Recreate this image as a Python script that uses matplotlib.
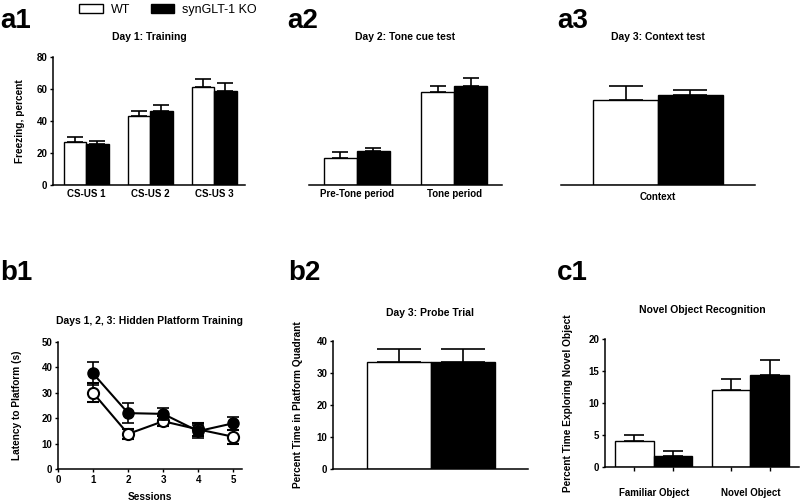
import numpy as np
import matplotlib
matplotlib.use("Agg")
import matplotlib.pyplot as plt

plt.rcParams['font.family'] = ['Liberation Sans', 'DejaVu Sans']
plt.rcParams['font.weight'] = 'bold'

W, H = 800, 501

# --- data ---
groups = ["WT", "synGLT-1 KO"]

a1_cats = ["CS-US 1", "CS-US 2", "CS-US 3"]
a1_wt = [27, 43, 61]
a1_wt_err = [3, 3, 5.5]
a1_ko = [25.5, 46, 59]
a1_ko_err = [2, 4, 4.5]

a2_cats = ["Pre-Tone period", "Tone period"]
a2_wt = [17, 58]
a2_wt_err = [3.5, 4]
a2_ko = [21, 62]
a2_ko_err = [2, 5]

a3_cats = ["Context"]
a3_wt = [53]
a3_wt_err = [9]
a3_ko = [56]
a3_ko_err = [3.5]

sessions = [1, 2, 3, 4, 5]
b1_wt = [30, 13.8, 18.8, 15.6, 12.7]
b1_wt_err = [3.8, 2, 2, 2.5, 2.8]
b1_ko = [37.6, 22, 21.7, 14.9, 18]
b1_ko_err = [4.5, 4, 2.5, 2.5, 2.5]

b2_wt = [33.5]
b2_wt_err = [4]
b2_ko = [33.5]
b2_ko_err = [4]

c1_cats = ["Familiar Object", "Novel Object"]
c1_wt = [4, 12]
c1_wt_err = [1, 1.8]
c1_ko = [1.7, 14.3]
c1_ko_err = [0.8, 2.4]


def rect(l, t, r, b):
    return [l / W, 1 - b / H, (r - l) / W, (b - t) / H]


def style(ax, left=True):
    for s in ['top', 'right']:
        ax.spines[s].set_visible(False)
    ax.spines['left'].set_visible(left)
    for s in ['left', 'bottom']:
        ax.spines[s].set_linewidth(1.1)
    ax.tick_params(labelsize=7, width=1, length=2.5, pad=1.5)
    if not left:
        ax.set_yticks([])


def bar_pair(ax, x, wt, wt_err, ko, ko_err, width, cap, label=True):
    x = np.asarray(x, dtype=float)
    ekw = dict(elinewidth=1.2, capthick=1.2, ecolor='black')
    ax.bar(x - width / 2, wt, width, color='white', edgecolor='black', linewidth=1,
           yerr=[np.zeros(len(wt)), wt_err], capsize=cap, error_kw=ekw,
           label=groups[0] if label else None, zorder=2)
    ax.bar(x + width / 2, ko, width, color='black', edgecolor='black', linewidth=1,
           yerr=[np.zeros(len(ko)), ko_err], capsize=cap, error_kw=ekw,
           label=groups[1] if label else None, zorder=2)


fig = plt.figure(figsize=(8, 5.01), dpi=100)

title_kw = dict(fontsize=7.5, fontweight='bold')
lab_kw = dict(fontsize=7.3, fontweight='bold')

# a1
ax = fig.add_axes(rect(53, 57, 245, 185))
bar_pair(ax, range(3), a1_wt, a1_wt_err, a1_ko, a1_ko_err, 0.35, 6)
ax.set_xlim(-0.52, 2.48)
ax.set_ylim(0, 80)
style(ax)
ax.set_yticks([0, 20, 40, 60, 80])
ax.set_xticks(range(3), a1_cats, fontsize=7)
ax.tick_params(axis='x', length=0, pad=3)
ax.set_title("Day 1: Training", pad=12, **title_kw)
ax.set_ylabel("Freezing, percent", **lab_kw)
ax.yaxis.set_label_coords(-0.146, 0.5)
handles, labels = ax.get_legend_handles_labels()

# a2
ax = fig.add_axes(rect(309, 57, 502, 185))
bar_pair(ax, range(2), a2_wt, a2_wt_err, a2_ko, a2_ko_err, 0.34, 6, label=False)
ax.set_xlim(-0.49, 1.49)
ax.set_ylim(0, 80)
style(ax, left=False)
ax.set_xticks(range(2), a2_cats, fontsize=7)
ax.tick_params(axis='x', length=0, pad=3)
ax.set_title("Day 2: Tone cue test", pad=12, **title_kw)

# a3
ax = fig.add_axes(rect(561, 57, 755, 185))
bar_pair(ax, [0], a3_wt, a3_wt_err, a3_ko, a3_ko_err, 0.335, 12, label=False)
ax.set_xlim(-0.5, 0.5)
ax.set_ylim(0, 80)
style(ax, left=False)
ax.set_xticks([0], a3_cats, fontsize=7)
ax.tick_params(axis='x', length=0, pad=5)
ax.set_title("Day 3: Context test", pad=12, **title_kw)

# b1
ax = fig.add_axes(rect(58, 342, 242, 469))
ax.errorbar(sessions, b1_ko, yerr=b1_ko_err, color='black', lw=1.5, marker='o',
            ms=8, mfc='black', mec='black', capsize=4, elinewidth=1.2, capthick=1.2, zorder=3)
ax.errorbar(sessions, b1_wt, yerr=b1_wt_err, color='black', lw=1.5, marker='o',
            ms=8, mfc='white', mec='black', mew=1.5, capsize=4, elinewidth=1.2,
            capthick=1.2, zorder=2)
ax.set_xlim(0, 5.25)
ax.set_ylim(0, 50)
style(ax)
ax.set_xticks(range(6))
ax.set_yticks(range(0, 51, 10))
ax.set_title("Days 1, 2, 3: Hidden Platform Training", pad=13, **title_kw)
ax.set_ylabel("Latency to Platform (s)", **lab_kw)
ax.yaxis.set_label_coords(-0.196, 0.5)
ax.set_xlabel("Sessions", labelpad=5, **lab_kw)

# b2
ax = fig.add_axes(rect(333, 341, 528, 469))
ekw = dict(elinewidth=1.2, capthick=1.2, ecolor='black')
ax.bar([0], b2_wt, 1, color='white', edgecolor='black', linewidth=1,
       yerr=[[0], b2_wt_err], capsize=16, error_kw=ekw, zorder=2)
ax.bar([1], b2_ko, 1, color='black', edgecolor='black', linewidth=1,
       yerr=[[0], b2_ko_err], capsize=16, error_kw=ekw, zorder=2)
ax.set_xlim(-1.03, 2.02)
ax.set_ylim(0, 40)
style(ax)
ax.set_xticks([])
ax.set_yticks(range(0, 41, 10))
ax.set_title("Day 3: Probe Trial", pad=18, **title_kw)
ax.set_ylabel("Percent Time in Platform Quadrant", **lab_kw)
ax.yaxis.set_label_coords(-0.154, 0.5)

# c1
ax = fig.add_axes(rect(605, 339, 799, 467))
bar_pair(ax, range(2), c1_wt, c1_wt_err, c1_ko, c1_ko_err, 0.4, 7, label=False)
ax.set_xlim(-0.505, 1.505)
ax.set_ylim(0, 20)
style(ax)
ax.set_yticks(range(0, 21, 5))
ax.set_xticks(range(2), c1_cats, fontsize=7)
ax.set_xticks([-0.2, 0.2, 0.8, 1.2], minor=True)
ax.tick_params(axis='x', which='major', length=0, pad=15)
ax.tick_params(axis='x', which='minor', length=3, width=1)
ax.set_title("Novel Object Recognition", pad=19, **title_kw)
ax.set_ylabel("Percent Time Exploring Novel Object", **lab_kw)
ax.yaxis.set_label_coords(-0.164, 0.5)

# legend
fig.legend(handles, labels, ncol=2, loc='upper left', bbox_to_anchor=(73 / W, 1 + 2 / H),
           frameon=False, prop=dict(size=9, weight='normal'), borderpad=0,
           handlelength=1.9, handleheight=0.7, handletextpad=0.65, columnspacing=1.6)

# panel labels
for txt, x, y in [("a1", 0, 28), ("a2", 287, 28), ("a3", 557, 28),
                  ("b1", 0, 280), ("b2", 288, 280), ("c1", 557, 280)]:
    fig.text(x / W, 1 - y / H, txt, fontsize=20, fontweight='bold', ha='left', va='baseline')

fig.savefig("out.png", dpi=100)
